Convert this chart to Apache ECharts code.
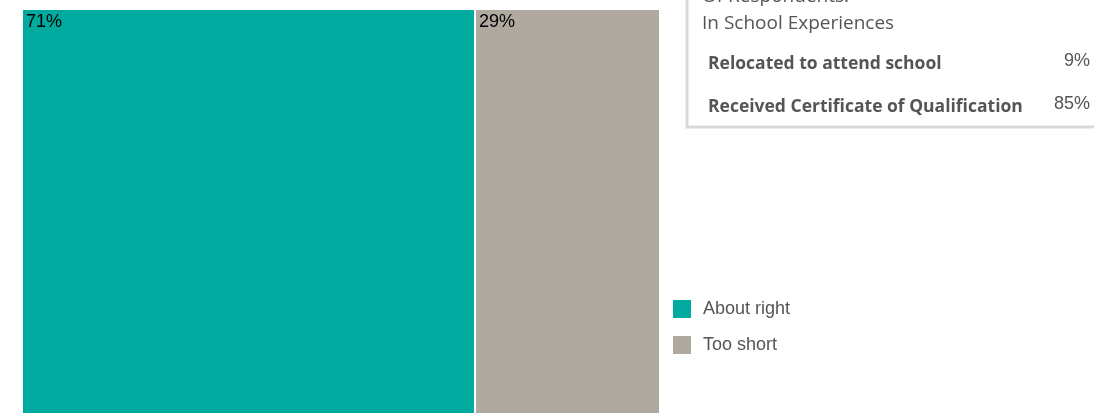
<!DOCTYPE html>
<html><head><meta charset="utf-8">
<script src="https://cdn.jsdelivr.net/npm/echarts@6/dist/echarts.min.js"></script>
<style>html,body{margin:0;padding:0;background:#fff}#c{width:1094px;height:414px}</style>
</head><body><div id="c"></div>
<script>
const categories = ['Program length'];
const seriesNames = ['About right', 'Too short'];
const aboutRight = [71];
const tooShort = [29];
const boxTitle1 = 'Of Respondents:';
const boxTitle2 = 'In School Experiences';
const statLabels = ['Relocated to attend school', 'Received Certificate of Qualification'];
const statValues = ['9%', '85%'];

const chart = echarts.init(document.getElementById('c'));
const lbl = {show: true, position: 'insideTopLeft', distance: 4, color: '#000', fontSize: 18, fontFamily: 'Liberation Sans, Arial', formatter: p => p.value + '%'};
const seg = 'Open Sans, Noto Sans, sans-serif';
chart.setOption({
  animation: false,
  grid: {left: 22, right: 434, top: 9, bottom: -200},
  xAxis: {type: 'value', min: 0, max: 100, show: false},
  yAxis: {type: 'category', data: categories, show: false},
  legend: {orient: 'vertical', left: 671, top: 298, padding: 0, icon: 'rect', itemWidth: 20, itemHeight: 20, itemGap: 14,
    textStyle: {fontSize: 18, color: '#555', fontFamily: 'Liberation Sans, Arial', padding: [0, 0, 0, 6]}, data: seriesNames},
  series: [
    {name: seriesNames[0], type: 'bar', stack: 's', data: aboutRight, barCategoryGap: 0, barWidth: '100%',
     itemStyle: {color: '#00AA9F', borderColor: '#fff', borderWidth: 1}, label: lbl},
    {name: seriesNames[1], type: 'bar', stack: 's', data: tooShort, barCategoryGap: 0, barWidth: '100%',
     itemStyle: {color: '#B0A99F', borderColor: '#fff', borderWidth: 1}, label: lbl}
  ],
  graphic: [
    {type: 'rect', shape: {x: 687, y: -60, width: 500, height: 187}, style: {fill: '#fff', stroke: '#d9d9d9', lineWidth: 3}},
    {type: 'text', x: 702, y: -3, style: {text: boxTitle1, font: '19px ' + seg, fill: '#555', textVerticalAlign: 'middle'}},
    {type: 'text', x: 702, y: 24, style: {text: boxTitle2, font: '19px ' + seg, fill: '#555', textVerticalAlign: 'middle'}},
    {type: 'text', x: 708, y: 64, style: {text: statLabels[0], font: 'bold 17.5px ' + seg, fill: '#555', textVerticalAlign: 'middle'}},
    {type: 'text', x: 708, y: 107, style: {text: statLabels[1], font: 'bold 17.5px ' + seg, fill: '#555', textVerticalAlign: 'middle'}},
    {type: 'text', x: 1090, y: 61, style: {text: statValues[0], font: '18px Liberation Sans, Arial', fill: '#555', textAlign: 'right', textVerticalAlign: 'middle'}},
    {type: 'text', x: 1090, y: 104, style: {text: statValues[1], font: '18px Liberation Sans, Arial', fill: '#555', textAlign: 'right', textVerticalAlign: 'middle'}}
  ]
});
</script></body></html>
